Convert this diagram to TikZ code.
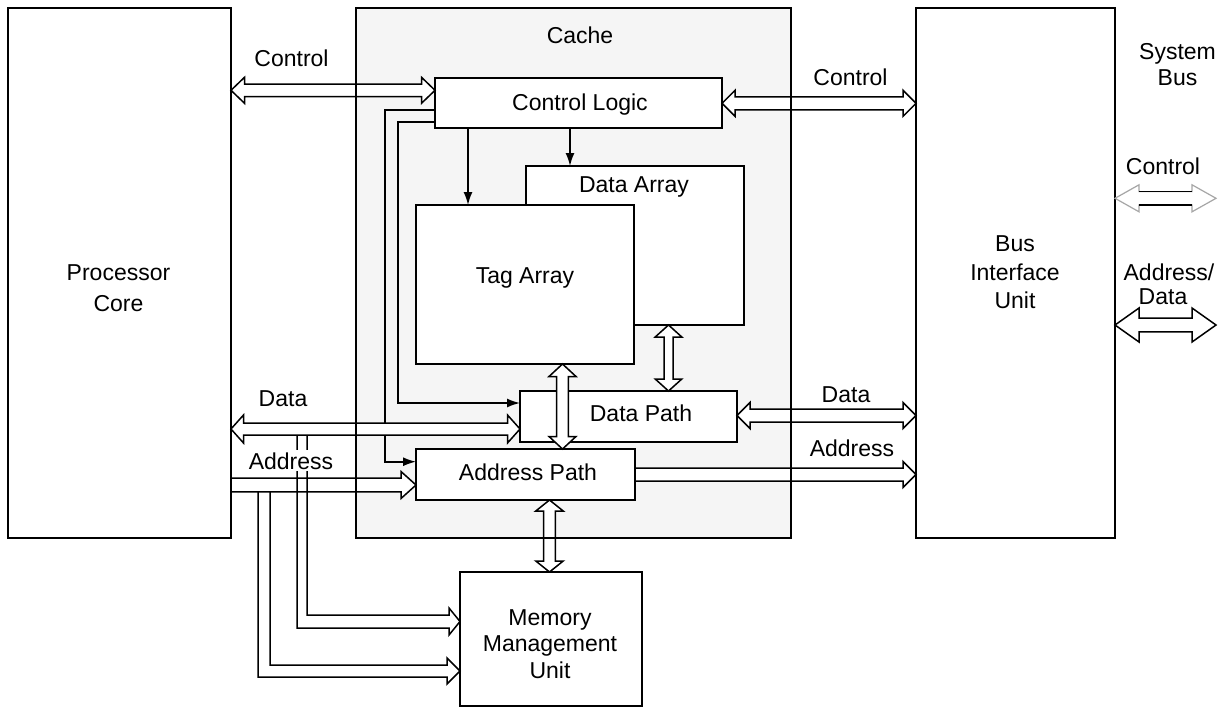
\documentclass[tikz,border=0pt]{standalone}
\usepackage{fontspec}
\setmainfont{Liberation Sans}
\usetikzlibrary{arrows.meta,calc}
\tikzset{
 box/.style={draw=black, line width=1.8pt, fill=white, inner sep=0pt, outer sep=0pt, anchor=north west},
 hol/.style={draw=black, line width=1.5pt, fill=white, line join=miter},
 pipe/.style={draw=black, line width=1.5pt, line join=miter},
 ctl/.style={draw=black, line width=1.6pt, -{Latex[length=13pt,width=9pt]}},
 lbl/.style={anchor=base, inner sep=0pt, font=\fontsize{23}{26}\selectfont},
}
% double-headed horizontal hollow arrow: #1 left, #2 right, #3 shaft half, #4 head half, #5 head length
\newcommand\harrowbi[5]{%
 \draw[hol] let \p1=#1, \p2=#2 in
  (\x1,\y1) -- (\x1+#5pt,\y1+#4pt) -- (\x1+#5pt,\y1+#3pt) -- (\x2-#5pt,\y1+#3pt)
  -- (\x2-#5pt,\y1+#4pt) -- (\x2,\y1) -- (\x2-#5pt,\y1-#4pt) -- (\x2-#5pt,\y1-#3pt)
  -- (\x1+#5pt,\y1-#3pt) -- (\x1+#5pt,\y1-#4pt) -- cycle;}
% single-headed (to the right)
\newcommand\harrowr[5]{%
 \draw[hol] let \p1=#1, \p2=#2 in
  (\x1,\y1+#3pt) -- (\x2-#5pt,\y1+#3pt) -- (\x2-#5pt,\y1+#4pt) -- (\x2,\y1)
  -- (\x2-#5pt,\y1-#4pt) -- (\x2-#5pt,\y1-#3pt) -- (\x1,\y1-#3pt) -- cycle;}
% double-headed with grey heads
\newcommand\harrowgray[5]{%
 \draw[hol, draw=black!35, line width=1.2pt] let \p1=#1, \p2=#2 in
  (\x1,\y1) -- (\x1+#5pt,\y1+#4pt) -- (\x1+#5pt,\y1+#3pt) -- (\x2-#5pt,\y1+#3pt)
  -- (\x2-#5pt,\y1+#4pt) -- (\x2,\y1) -- (\x2-#5pt,\y1-#4pt) -- (\x2-#5pt,\y1-#3pt)
  -- (\x1+#5pt,\y1-#3pt) -- (\x1+#5pt,\y1-#4pt) -- cycle;
 \draw[line width=1.5pt] let \p1=#1, \p2=#2 in
  (\x1+#5pt,\y1+#3pt) -- (\x2-#5pt,\y1+#3pt) (\x1+#5pt,\y1-#3pt) -- (\x2-#5pt,\y1-#3pt);}
% double-headed vertical: #1 top, #2 bottom
\newcommand\varrowbi[5]{%
 \draw[hol] let \p1=#1, \p2=#2 in
  (\x1,\y1) -- (\x1+#4pt,\y1-#5pt) -- (\x1+#3pt,\y1-#5pt) -- (\x1+#3pt,\y2+#5pt)
  -- (\x1+#4pt,\y2+#5pt) -- (\x1,\y2) -- (\x1-#4pt,\y2+#5pt) -- (\x1-#3pt,\y2+#5pt)
  -- (\x1-#3pt,\y1-#5pt) -- (\x1-#4pt,\y1-#5pt) -- cycle;}

\begin{document}
\begin{tikzpicture}[x=1pt,y=-1pt]
\useasboundingbox[fill=white] (0,0) rectangle (1228,715);

% boxes
\node[box, draw=none, fill=gray!8, minimum width=435pt, minimum height=530pt] (cache) at (356,8) {};
\node[box, minimum width=223pt, minimum height=530pt] (pc) at (8,8) {};
\node[box, minimum width=199pt, minimum height=530pt] (biu) at (916,8) {};
\node[box, minimum width=287pt, minimum height=50pt] (cl) at (435,78) {};
\node[box, minimum width=218pt, minimum height=159pt] (da) at (526,166) {};
\node[box, minimum width=218pt, minimum height=159pt] (ta) at (416,205) {};
\node[box, minimum width=217pt, minimum height=51pt] (dp) at (520,391) {};
\node[box, minimum width=219pt, minimum height=51pt] (ap) at (416,449) {};
\node[box, minimum width=182pt, minimum height=134pt] (mmu) at (460,572) {};

% control lines
\draw[ctl] (cl.west |- 0,110) -| (385,461.7) -- (ap.west |- 0,461.7);
\draw[ctl] (cl.west |- 0,122) -| (398,403) -- (dp.west |- 0,403);
\draw[ctl] (468,0 |- cl.south) -- (468,0 |- ta.north);
\draw[ctl] (570,0 |- cl.south) -- (570,0 |- da.north);

% hollow bus arrows
\harrowbi{(pc.east |- 0,90.3)}{(cl.west |- 0,90.3)}{6.3}{13}{13.5}
\harrowbi{(cl.east |- 0,103.3)}{(biu.west |- 0,103.3)}{6.5}{13}{13}
\harrowbi{(pc.east |- 0,429)}{(dp.west |- 0,429)}{6}{14}{12.5}
\harrowr{(pc.east |- 0,485)}{(ap.west |- 0,485)}{6.8}{13.5}{15}
\harrowbi{(dp.east |- 0,415.5)}{(biu.west |- 0,415.5)}{6.5}{13}{13}
\harrowr{(ap.east |- 0,474.5)}{(biu.west |- 0,474.5)}{6.5}{13}{13}
\harrowgray{(biu.east |- 0,198.3)}{(1216,198.3)}{6.7}{13.5}{24}
\harrowbi{(biu.east |- 0,325)}{(1216,325)}{6.8}{17}{24}
\varrowbi{(562.5,0 |- ta.south)}{(562.5,0 |- ap.north)}{5.8}{13.5}{12.5}
\varrowbi{(668.5,0 |- da.south)}{(668.5,0 |- dp.north)}{4.5}{13.3}{12}
\varrowbi{(549.5,0 |- ap.south)}{(549.5,0 |- mmu.north)}{5.8}{13.7}{11}

% cache border on top
\draw[line width=1.8pt] (cache.north west) rectangle (cache.south east);

% pipes to MMU
\draw[pipe] (307,435) -- (307,615) -- (449,615) -- (449,608) -- (mmu.west |- 0,621.5)
  -- (449,635) -- (449,628) -- (297,628) -- (297,435);
\draw[pipe] (270,491.8) -- (270,665) -- (447,665) -- (447,658) -- (mmu.west |- 0,671)
  -- (447,684) -- (447,677) -- (258,677) -- (258,491.8);

% labels
\node[lbl] at (580,43.5) {Cache};
\node[lbl] at (291.5,66.7) {Control};
\node[lbl] at (850.5,85) {Control};
\node[lbl] at (580,110) {Control Logic};
\node[lbl] at (1177.5,59.5) {System};
\node[lbl] at (1177.5,85) {Bus};
\node[lbl] at (1163,174) {Control};
\node[lbl] at (1169,280) {Address/};
\node[lbl] at (1163,304) {Data};
\node[lbl] at (283,406) {Data};
\node[lbl, fill=white, inner sep=2pt] at (291,469) {Address};
\node[lbl] at (846,402) {Data};
\node[lbl] at (852,456) {Address};
\node[lbl] at (641,421.7) {Data Path};
\node[lbl] at (528,480.7) {Address Path};
\node[lbl] at (525,283) {Tag Array};
\node[lbl] at (634,192) {Data Array};
\node[lbl] at (118.5,280.7) {Processor};
\node[lbl] at (118.5,311.7) {Core};
\node[lbl] at (1015,251) {Bus};
\node[lbl] at (1015,280) {Interface};
\node[lbl] at (1015,308) {Unit};
\node[lbl] at (550,625) {Memory};
\node[lbl] at (550,651.5) {Management};
\node[lbl] at (550,678) {Unit};
\end{tikzpicture}
\end{document}
